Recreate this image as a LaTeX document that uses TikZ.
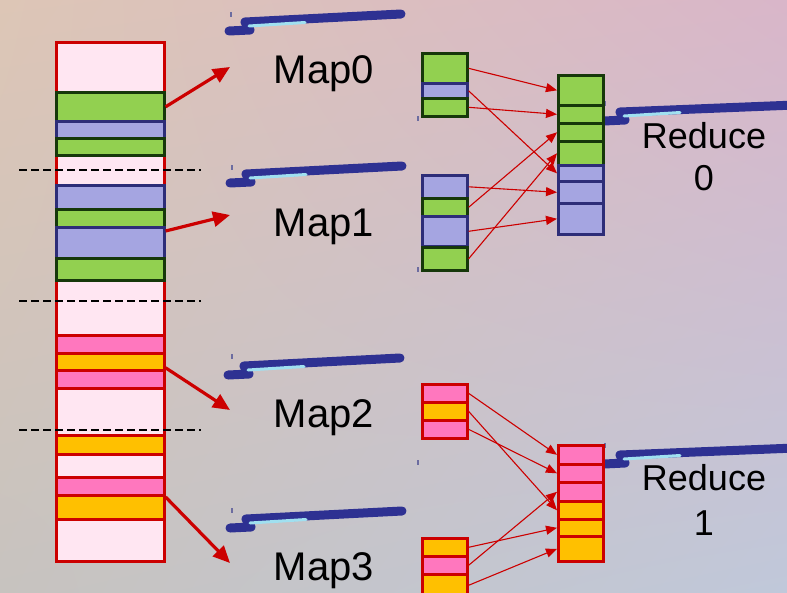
\documentclass[tikz,border=0pt]{standalone}
\usepackage{fontspec}
\setmainfont{Liberation Sans}
\usetikzlibrary{arrows.meta,shadings}

\definecolor{grnfill}{RGB}{146,208,80}
\definecolor{grnline}{RGB}{22,56,10}
\definecolor{blufill}{RGB}{165,165,225}
\definecolor{bluline}{RGB}{45,45,120}
\definecolor{pnkfill}{RGB}{255,119,190}
\definecolor{ylwfill}{RGB}{255,192,0}
\definecolor{redline}{RGB}{204,0,0}
\definecolor{colfill}{RGB}{255,230,242}
\definecolor{boltblue}{RGB}{46,49,146}
\definecolor{boltlight}{RGB}{160,224,240}
\definecolor{bgtl}{RGB}{221,198,182}
\definecolor{bgtr}{RGB}{217,182,201}
\definecolor{bgbl}{RGB}{199,195,191}
\definecolor{bgbr}{RGB}{192,200,218}

% block: name, styles, x, top, bottom
\newcommand{\blk}[5]{\node[#2, minimum height={#5-#4}, anchor=north west] (#1) at (#3,#4) {};}
% squashed picture placeholder: x, y of its left end, length
\newcommand{\bolt}[3]{%
  \draw[boltline] (#1,#2) -- ++(21,-1) -- ++(-5,-8) -- ++(#3,-8);
  \draw[boltshine] (#1,#2) ++(20,-5) -- ++(56,-3.5);}

\begin{document}
\begin{tikzpicture}[x=1pt,y=-1pt,
  every node/.style={inner sep=0pt},
  box/.style={rectangle, line width=2.6pt},
  pale/.style={draw=redline, fill=colfill},
  grn/.style={draw=grnline, fill=grnfill},
  blu/.style={draw=bluline, fill=blufill},
  pnk/.style={draw=redline, fill=pnkfill},
  ylw/.style={draw=redline, fill=ylwfill},
  colw/.style={minimum width=108},
  mapw/.style={minimum width=45},
  split/.style={dashed, dash pattern=on 8pt off 4pt, line width=2pt},
  feed/.style={redline, line width=3.2pt, -{Triangle[length=17pt,width=15pt]}},
  shuf/.style={redline, line width=1.1pt, -{Triangle[length=11pt,width=9pt]}},
  boltline/.style={boltblue, line width=9pt, line cap=round, line join=round},
  boltshine/.style={boltlight, line width=3pt, line cap=round},
  tick/.style={bluline!70, line width=1.4pt},
  lbl/.style={font=\fontsize{40}{48}\selectfont, anchor=base},
  rlbl/.style={font=\fontsize{36}{42}\selectfont, anchor=base}]
\useasboundingbox (0,0) rectangle (787,592);
\clip (0,0) rectangle (787,592);
\shade[upper left=bgtl, upper right=bgtr, lower left=bgbl, lower right=bgbr]
  (0,0) rectangle (787,592);

% input file
\blk{col}{box,pale,colw}{55}{41}{560}
\blk{c1}{box,grn,colw}{55}{91}{120}
\blk{c2}{box,blu,colw}{55}{120}{137}
\blk{c3}{box,grn,colw}{55}{137}{154}
\blk{c4}{box,blu,colw}{55}{184}{208}
\blk{c5}{box,grn,colw}{55}{208}{226}
\blk{c6}{box,blu,colw}{55}{226}{257}
\blk{c7}{box,grn,colw}{55}{257}{279}
\blk{c8}{box,pnk,colw}{55}{334}{352}
\blk{c9}{box,ylw,colw}{55}{352}{369}
\blk{c10}{box,pnk,colw}{55}{369}{387}
\blk{c11}{box,ylw,colw}{55}{434}{453}
\blk{c12}{box,pnk,colw}{55}{476}{494}
\blk{c13}{box,ylw,colw}{55}{494}{518}
\foreach \y in {170,301,430}
  \draw[split] (19,\y) -- (201,\y);

% placeholders
\bolt{229}{31}{156}
\bolt{230}{183}{156}
\bolt{228}{375}{156}
\bolt{230}{528}{156}
\bolt{604}{121}{200}
\bolt{604}{464}{200}
\foreach \x/\y in {231/12,232/165,232/354,232/508,418/116,418/267,418/460,605/101,605/443}
  \draw[tick] (\x,\y) -- ++(0,5);
\fill[boltblue] (401,167) circle (2);
\fill[boltblue] (401,512) circle (2);

% splits to maps
\coordinate (t0) at (230,67);
\coordinate (t1) at (230,215);
\coordinate (t2) at (230,410);
\coordinate (t3) at (230,563);
\draw[feed] (c1.east) -- (t0);
\draw[feed] ([yshift=-5pt]c6.north east) -- (t1);
\draw[feed] ([yshift=-6pt]c9.east) -- (t2);
\draw[feed] ([yshift=-3pt]c13.north east) -- (t3);

\node[lbl] (map0) at (324,83) {Map0};
\node[lbl] (map1) at (324,236) {Map1};
\node[lbl] (map2) at (324,427) {Map2};
\node[lbl] (map3) at (324,580) {Map3};

% map outputs
\blk{m0a}{box,grn,mapw}{421}{52}{82}
\blk{m0b}{box,blu,mapw}{421}{82}{97}
\blk{m0c}{box,grn,mapw}{421}{97}{115}
\blk{m1a}{box,blu,mapw}{421}{174}{197}
\blk{m1b}{box,grn,mapw}{421}{197}{215}
\blk{m1c}{box,blu,mapw}{421}{215}{245}
\blk{m1d}{box,grn,mapw}{421}{246}{269}
\blk{m2a}{box,pnk,mapw}{421}{383}{401}
\blk{m2b}{box,ylw,mapw}{421}{401}{419}
\blk{m2c}{box,pnk,mapw}{421}{419}{437}
\blk{m3a}{box,ylw,mapw}{421}{537}{555}
\blk{m3b}{box,pnk,mapw}{421}{555}{573}
\blk{m3c}{box,ylw,mapw}{421}{573}{595}

% reduce inputs
\blk{r0a}{box,grn,mapw}{557}{74}{104}
\blk{r0b}{box,grn,mapw}{557}{104}{122}
\blk{r0c}{box,grn,mapw}{557}{122}{140}
\blk{r0d}{box,grn,mapw}{557}{140}{164}
\blk{r0e}{box,blu,mapw}{557}{164}{180}
\blk{r0f}{box,blu,mapw}{557}{180}{202}
\blk{r0g}{box,blu,mapw}{557}{202}{233}
\blk{r1a}{box,pnk,mapw}{557}{444}{463}
\blk{r1b}{box,pnk,mapw}{557}{463}{481}
\blk{r1c}{box,pnk,mapw}{557}{481}{500}
\blk{r1d}{box,ylw,mapw}{557}{500}{518}
\blk{r1e}{box,ylw,mapw}{557}{518}{535}
\blk{r1f}{box,ylw,mapw}{557}{535}{560}

% shuffle
\foreach \a/\b in {m0a/r0a,m0b/r0e,m0c/r0b,m1a/r0f,m1b/r0c,m1c/r0g,m1d/r0d,
                   m2a/r1a,m2b/r1d,m2c/r1b,m3a/r1e,m3b/r1c,m3c/r1f}
  \draw[shuf] (\a.east) -- (\b.west);

\node[rlbl] (red0) at (704,148) {Reduce};
\node[rlbl] (red0n) at (704,190) {0};
\node[rlbl] (red1) at (704,490) {Reduce};
\node[rlbl] (red1n) at (704,535) {1};
\end{tikzpicture}
\end{document}
